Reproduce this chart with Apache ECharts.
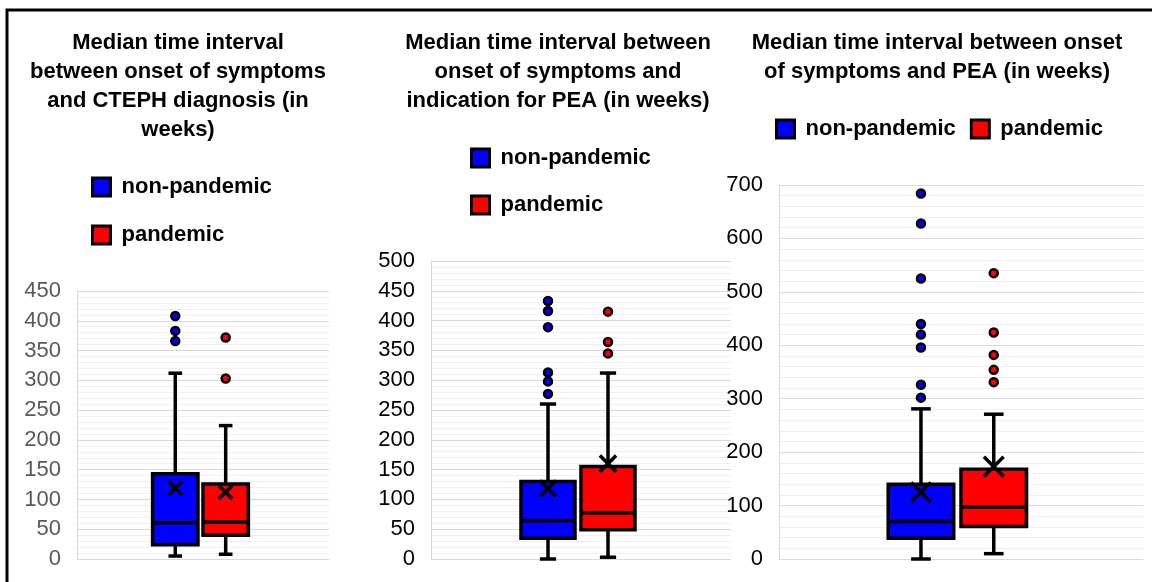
<!DOCTYPE html>
<html>
<head>
<meta charset="utf-8">
<script src="https://cdn.jsdelivr.net/npm/echarts@6/dist/echarts.min.js"></script>
<style>
    html, body { margin: 0; padding: 0; background: #fff; }
    #chart { width: 1153px; height: 582px; }
</style>
</head>
<body>
<div id="chart"></div>
<script>
// group position on the hidden x axis
var groups = ['non-pandemic', 'pandemic'];
var groupColors = ['#0000ff', '#ff0000'];

// [low whisker, Q1, median, Q3, high whisker], mean, outliers
// panel 1: onset of symptoms -> CTEPH diagnosis
var diagBox = [[5, 24, 61, 143, 312], [8, 40, 62, 126, 224]];
var diagMean = [119, 112];
var diagOutliers = [[408, 383, 366], [372, 303]];

// panel 2: onset of symptoms -> indication for PEA
var indBox = [[0, 35, 64, 130, 260], [3, 49, 77, 155, 312]];
var indMean = [118, 160];
var indOutliers = [[433, 416, 389, 313, 298, 277], [415, 364, 345]];

// panel 3: onset of symptoms -> PEA
var peaBox = [[0, 39, 70, 140, 281], [10, 61, 97, 168, 271]];
var peaMean = [125, 173];
var peaOutliers = [[684, 628, 525, 440, 420, 396, 326, 302], [535, 424, 382, 354, 331]];

var panelTitles = [
    'Median time interval\nbetween onset of symptoms\nand CTEPH diagnosis (in\nweeks)',
    'Median time interval between\nonset of symptoms and\nindication for PEA (in weeks)',
    'Median time interval between onset\nof symptoms and PEA (in weeks)'
];
var yMax = [450, 500, 700];
var yStep = [50, 50, 100];

var font = 'Liberation Sans, Arial, sans-serif';

function renderBox(params, api) {
    var x = api.value(0);
    var low = api.coord([x, api.value(1)]);
    var q1 = api.coord([x, api.value(2)]);
    var med = api.coord([x, api.value(3)]);
    var q3 = api.coord([x, api.value(4)]);
    var high = api.coord([x, api.value(5)]);
    var mean = api.coord([x, api.value(6)]);
    var w = api.size([0.9, 0])[0];
    var cx = low[0];
    var cap = w * 0.15;
    var m = w * 0.15;
    var stroke = { stroke: '#000', lineWidth: 3.5 };
    function line(x1, y1, x2, y2) {
        return { type: 'line', shape: { x1: x1, y1: y1, x2: x2, y2: y2 }, style: stroke };
    }
    return {
        type: 'group',
        children: [
            line(cx, low[1], cx, q1[1]),
            line(cx, q3[1], cx, high[1]),
            line(cx - cap, low[1], cx + cap, low[1]),
            line(cx - cap, high[1], cx + cap, high[1]),
            {
                type: 'rect',
                shape: { x: cx - w / 2, y: q3[1], width: w, height: q1[1] - q3[1] },
                style: { fill: api.visual('color'), stroke: '#000', lineWidth: 3.5 }
            },
            line(cx - w / 2, med[1], cx + w / 2, med[1]),
            line(cx - m, mean[1] - m, cx + m, mean[1] + m),
            line(cx - m, mean[1] + m, cx + m, mean[1] - m)
        ]
    };
}

var grids = [
    { left: 77, top: 291, width: 252, height: 268 },
    { left: 431, top: 261, width: 300, height: 298 },
    { left: 779, top: 185, width: 364, height: 374 }
];
var labelColors = ['#595959', '#000', '#000'];
var titleCenters = [178, 558, 937];

var panels = [
    { box: diagBox, mean: diagMean, out: diagOutliers },
    { box: indBox, mean: indMean, out: indOutliers },
    { box: peaBox, mean: peaMean, out: peaOutliers }
];

var xAxes = [], yAxes = [], series = [], titles = [];
panels.forEach(function(p, i) {
    xAxes.push({
        gridIndex: i, type: 'value', min: -1.95, max: 3.05, show: false,
        splitLine: { show: false }, axisLine: { show: false }, axisLabel: { show: false }, axisTick: { show: false }
    });
    yAxes.push({
        gridIndex: i, type: 'value', min: 0, max: yMax[i], interval: yStep[i],
        axisLine: { show: true, onZero: false, lineStyle: { color: '#d9d9d9', width: 1 } },
        axisTick: { show: false },
        axisLabel: { color: labelColors[i], fontSize: 22, fontFamily: font, margin: 16 },
        splitLine: { lineStyle: { color: '#d9d9d9', width: 1 } },
        minorTick: { show: false, splitNumber: 5 },
        minorSplitLine: { show: true, lineStyle: { color: '#efefef', width: 1 } }
    });
    titles.push({
        text: panelTitles[i], left: titleCenters[i], top: 28, textAlign: 'center', padding: 0,
        textStyle: { fontFamily: font, fontSize: 22, fontWeight: 'bold', color: '#000', lineHeight: 29 }
    });
    groups.forEach(function(g, k) {
        series.push({
            name: g, type: 'custom', xAxisIndex: i, yAxisIndex: i,
            itemStyle: { color: groupColors[k] },
            renderItem: renderBox,
            encode: { x: 0, y: [1, 2, 3, 4, 5, 6] },
            data: [[k].concat(p.box[k], [p.mean[k]])],
            z: 3
        });
    });
    groups.forEach(function(g, k) {
        series.push({
            name: g, type: 'scatter', xAxisIndex: i, yAxisIndex: i,
            symbol: 'circle', symbolSize: 8,
            itemStyle: { color: groupColors[k], borderColor: '#000', borderWidth: 2.5, opacity: 1 },
            data: p.out[k].map(function(v) { return [k, v]; }),
            z: 4
        });
    });
});

var legendText = { fontFamily: font, fontSize: 22, fontWeight: 'bold', color: '#000', padding: [0, 0, 0, 6] };
var legendBase = {
    data: groups, icon: 'rect', itemWidth: 18, itemHeight: 18, padding: 0,
    itemStyle: { borderColor: '#000', borderWidth: 3 },
    textStyle: legendText, selectedMode: false
};

var chart = echarts.init(document.getElementById('chart'), null, { renderer: 'canvas' });
chart.setOption({
    animation: false,
    backgroundColor: '#fff',
    title: titles,
    grid: grids,
    xAxis: xAxes,
    yAxis: yAxes,
    legend: [
        Object.assign({}, legendBase, { orient: 'vertical', left: 91, top: 176, itemGap: 26 }),
        Object.assign({}, legendBase, { orient: 'vertical', left: 470, top: 147, itemGap: 25 }),
        Object.assign({}, legendBase, { orient: 'horizontal', left: 775, top: 118, itemGap: 14 })
    ],
    graphic: [
        { type: 'polyline', shape: { points: [[7, 590], [7, 10], [1152, 10]] }, style: { stroke: '#000', lineWidth: 3, fill: null } }
    ],
    series: series
});
</script>
</body>
</html>
